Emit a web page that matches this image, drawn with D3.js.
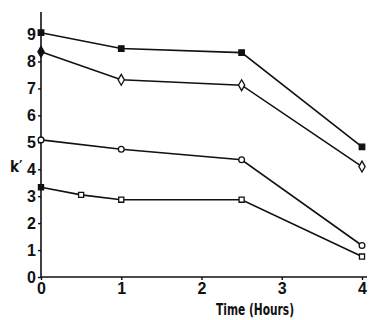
<!DOCTYPE html>
<html>
<head>
<meta charset="utf-8">
<script src="https://cdn.jsdelivr.net/npm/d3@7"></script>
<style>
  body { margin: 0; background: #fff; }
  text { font-family: "Liberation Sans Narrow", "DejaVu Sans Condensed", sans-serif; font-weight: bold; fill: #111; }
</style>
</head>
<body>
<svg id="chart" width="373" height="320"></svg>
<script>
// values
var times1 = [0, 1, 2.5, 4]
var timesSq = [0, 0.5, 1, 2.5, 4]
var filledSquare = [9.07, 8.48, 8.33, 4.83]
var openDiamond = [8.36, 7.32, 7.12, 4.1]
var openCircle = [5.09, 4.74, 4.35, 1.17]
var openSquare = [3.33, 3.05, 2.87, 2.87, 0.76]
var xTicks = [0, 1, 2, 3, 4]
var yTicks = [0, 1, 2, 3, 4, 5, 6, 7, 8, 9]

var series = [
  {t: times1, k: filledSquare, sym: d3.symbolSquare, fill: "#111", size: 30},
  {t: times1, k: openDiamond, sym: d3.symbolDiamond, fill: "#fff", size: 34},
  {t: times1, k: openCircle, sym: d3.symbolCircle, fill: "#fff", size: 26},
  {t: timesSq, k: openSquare, sym: d3.symbolSquare, fill: "#fff", size: 26}
]

var svg = d3.select("#chart")

var x = d3.scaleLinear().domain([0, 4]).range([41, 362])
var y = d3.scaleLinear().domain([0, 9.8]).range([277, 13])

// axes
var xAxis = svg.append("g").attr("transform", "translate(0,277)")
  .call(d3.axisBottom(x).tickValues(xTicks).tickSize(3).tickPadding(3).tickFormat(d3.format("d")))
var yAxis = svg.append("g").attr("transform", "translate(41,0)")
  .call(d3.axisLeft(y).tickValues(yTicks).tickSize(3).tickPadding(2).tickFormat(d3.format("d")))

xAxis.select(".domain").attr("d", "M41,0H367")
yAxis.select(".domain").attr("d", "M0,277V12")
svg.selectAll(".domain").attr("stroke", "#111").attr("stroke-width", 1.6)
svg.selectAll(".tick line").attr("stroke", "#111").attr("stroke-width", 1.4)
svg.selectAll(".tick text").style("font-size", "16px")
  .style("font-family", "'Liberation Sans Narrow', sans-serif").style("font-weight", "bold").attr("fill", "#111")

// lines
var line = d3.line()
  .x(function(d) { return x(d[0]) })
  .y(function(d) { return y(d[1]) })

series.forEach(function(s) {
  var pts = s.t.map(function(t, i) { return [t, s.k[i]] })
  svg.append("path")
    .datum(pts)
    .attr("d", line)
    .attr("fill", "none")
    .attr("stroke", "#111")
    .attr("stroke-width", 1.6)

  svg.selectAll(null)
    .data(pts)
    .enter().append("path")
    .attr("transform", function(d) { return "translate(" + x(d[0]) + "," + y(d[1]) + ")" })
    .attr("d", d3.symbol().type(s.sym).size(s.size))
    .attr("fill", function(d, i) { return i == 0 && s.sym != d3.symbolCircle ? "#111" : s.fill })
    .attr("stroke", "#111")
    .attr("stroke-width", 1.3)
})

// labels
svg.append("text")
  .attr("x", 10).attr("y", 172)
  .style("font-size", "15px")
  .text("k\u2032")

svg.append("text")
  .attr("x", 216).attr("y", 315)
  .attr("textLength", 78)
  .attr("lengthAdjust", "spacingAndGlyphs")
  .style("font-size", "15px")
  .text("Time  (Hours)")
</script>
</body>
</html>
